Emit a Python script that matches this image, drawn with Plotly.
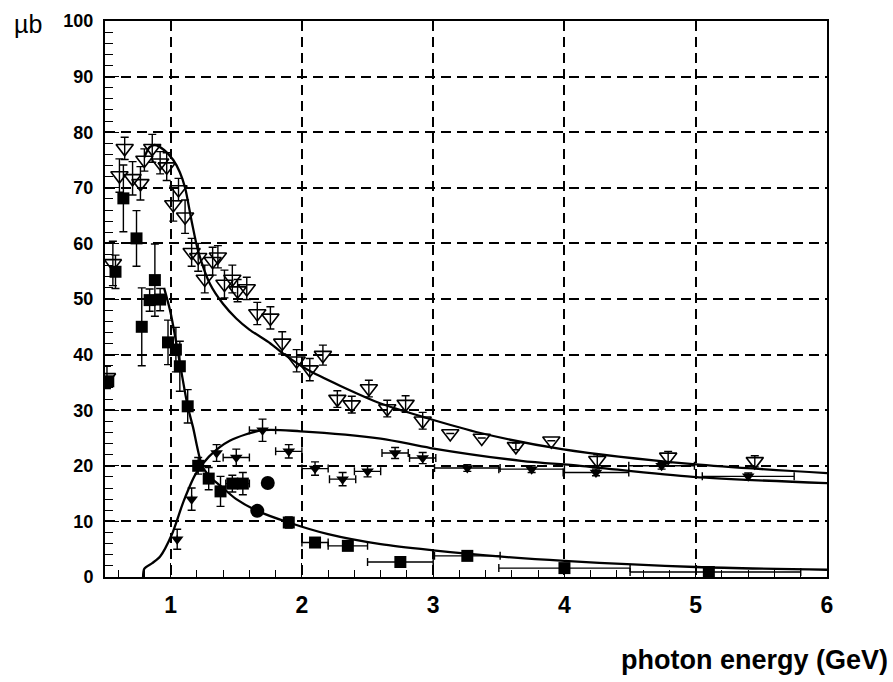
import plotly.graph_objects as go

# ---------------- data ----------------
# open down-triangles (total cross section)
tot_x = [0.515, 0.56, 0.61, 0.65, 0.71, 0.77, 0.80, 0.86, 0.92, 0.97, 1.02, 1.06, 1.11,
         1.16, 1.21, 1.26, 1.32, 1.36, 1.41, 1.47, 1.51, 1.58, 1.66, 1.76, 1.85, 1.96,
         2.06, 2.16, 2.27, 2.38, 2.51, 2.65, 2.79, 2.92, 3.13, 3.37, 3.63, 3.90, 4.25,
         4.79, 5.45]
tot_y = [35.9, 56.4, 72.2, 77.1, 71.7, 70.8, 75.0, 77.1, 74.5, 73.8, 67.0, 69.7, 64.8,
         58.4, 57.5, 53.6, 56.8, 57.6, 52.7, 53.6, 51.5, 51.9, 47.4, 46.6, 42.1, 38.9,
         37.3, 39.9, 32.0, 31.0, 33.9, 30.3, 31.1, 28.1, 25.8, 25.0, 23.5, 24.5, 21.0,
         21.6, 20.8]
tot_ey = [2.0, 4.0, 3.0, 2.0, 3.0, 3.0, 2.0, 2.5, 2.0, 2.5, 3.0, 2.0, 3.0,
          2.5, 2.5, 2.5, 2.5, 2.0, 2.5, 2.5, 2.0, 2.0, 2.0, 2.0, 2.0, 2.0,
          2.0, 1.8, 1.5, 1.5, 1.5, 1.5, 1.5, 1.5, None, None, 0.6, None, 1.0,
          1.0, 1.0]

# filled squares
sq_x = [0.525, 0.58, 0.64, 0.74, 0.78, 0.84, 0.88, 0.92, 0.98, 1.04, 1.07, 1.13,
        1.21, 1.29, 1.38, 1.47, 1.55, 1.90, 2.10, 2.35, 2.75, 3.26, 4.00, 5.10]
sq_y = [35.2, 54.9, 68.1, 60.9, 45.0, 49.8, 53.4, 49.9, 42.2, 40.9, 37.9, 30.7,
        20.0, 17.7, 15.4, 16.8, 16.8, 9.8, 6.2, 5.6, 2.7, 3.8, 1.6, 0.9]
sq_ey = [None, 3.0, 6.0, 5.0, 7.0, 2.0, 6.5, 2.0, 4.0, 4.0, 4.5, 3.0,
         1.5, 2.0, 2.7, 1.5, 2.0, 1.0, None, None, None, None, None, None]
sq_exm = [None, None, None, None, None, None, None, None, None, None, None, None,
          None, None, None, 0.05, 0.05, None, 0.1, 0.15, 0.25, 0.25, 0.5, 0.6]
sq_exp = [None, None, None, None, None, None, None, None, None, None, None, None,
          None, None, None, 0.05, 0.05, None, 0.1, 0.15, 0.25, 0.25, 0.5, 0.7]

# filled circles
ci_x = [1.66, 1.74]
ci_y = [11.9, 16.9]

# filled down-triangles
ft_x = [1.05, 1.16, 1.35, 1.50, 1.70, 1.90, 2.10, 2.31, 2.50, 2.71, 2.92, 3.26,
        3.75, 4.24, 4.74, 5.40]
ft_y = [6.8, 14.0, 22.3, 21.5, 26.4, 22.6, 19.5, 17.6, 19.0, 22.3, 21.4, 19.6,
        19.4, 18.8, 20.0, 18.1]
ft_ey = [1.8, 2.0, 1.5, 1.5, 2.0, 1.2, 1.2, 1.2, 1.0, 1.0, 1.0, 0.6,
         0.6, 0.6, 0.6, 0.6]
ft_ex = [None, None, None, 0.1, 0.1, 0.1, 0.1, 0.1, 0.1, 0.1, 0.1, 0.25,
         0.25, 0.25, 0.25, 0.35]

# model curves
cA_x = [0.80, 0.84, 0.88, 0.95, 1.02, 1.07, 1.11, 1.16, 1.21, 1.30, 1.40, 1.50,
        1.60, 1.76, 1.85, 2.04, 2.29, 2.60, 2.95, 3.36, 3.98, 4.98, 6.00]
cA_y = [75.5, 77.3, 77.7, 76.8, 75.0, 72.8, 70.0, 64.0, 58.6, 52.7, 49.1, 46.5,
        44.5, 42.0, 40.3, 37.3, 34.4, 31.2, 28.6, 25.9, 23.0, 20.3, 18.7]

cB_x = [0.79, 0.80, 0.86, 0.92, 1.01, 1.10, 1.19, 1.29, 1.45, 1.70, 1.99, 2.60,
        2.98, 3.67, 4.12, 4.98, 6.00]
cB_y = [0.0, 1.5, 2.5, 3.7, 7.7, 13.7, 18.5, 21.6, 24.5, 26.4, 26.2, 24.9,
        23.2, 20.9, 20.0, 18.0, 16.9]

cC_x = [0.95, 1.00, 1.07, 1.13, 1.17, 1.24, 1.30, 1.38, 1.50, 1.66, 1.90, 2.20,
        2.60, 3.00, 3.50, 4.00, 5.00, 6.00]
cC_y = [52.0, 47.5, 38.5, 30.7, 27.0, 20.0, 18.0, 16.4, 14.0, 11.9, 9.8, 7.7,
        5.9, 4.8, 3.7, 2.9, 1.8, 1.3]

x_ticks = [1, 2, 3, 4, 5, 6]
y_ticks = [0, 10, 20, 30, 40, 50, 60, 70, 80, 90, 100]

# ---------------- figure ----------------
BLACK = "black"
FONT = "Liberation Sans, Arial, sans-serif"
fig = go.Figure()

def ebar(arr, minus=None):
    d = dict(type="data", array=arr, visible=True, color=BLACK, thickness=1.4, width=4)
    if minus is not None:
        d["symmetric"] = False
        d["arrayminus"] = minus
    return d

fig.add_trace(go.Scatter(x=tot_x, y=tot_y, mode="markers",
                         error_y=ebar(tot_ey),
                         marker=dict(symbol="triangle-down-open", size=15, color=BLACK,
                                     line=dict(width=1.6, color=BLACK))))
fig.add_trace(go.Scatter(x=sq_x, y=sq_y, mode="markers",
                         error_y=ebar(sq_ey),
                         error_x=ebar(sq_exp, sq_exm),
                         marker=dict(symbol="square", size=12, color=BLACK)))
fig.add_trace(go.Scatter(x=ci_x, y=ci_y, mode="markers",
                         marker=dict(symbol="circle", size=14, color=BLACK)))
fig.add_trace(go.Scatter(x=ft_x, y=ft_y, mode="markers",
                         error_y=ebar(ft_ey),
                         error_x=ebar(ft_ex),
                         marker=dict(symbol="triangle-down", size=11, color=BLACK)))

for cx, cy in [(cA_x, cA_y), (cB_x, cB_y), (cC_x, cC_y)]:
    fig.add_trace(go.Scatter(x=cx, y=cy, mode="lines",
                             line=dict(color=BLACK, width=2.3, shape="spline", smoothing=0.8)))

axis_common = dict(showline=True, mirror=True, linecolor=BLACK, linewidth=2,
                   showgrid=True, gridcolor=BLACK, gridwidth=1.5, griddash="10px,6px",
                   zeroline=False, ticks="inside", tickcolor=BLACK, tickwidth=1.3,
                   tickfont=dict(family=FONT, color=BLACK, weight="bold"))

fig.update_xaxes(**axis_common, range=[0.5, 6], tickmode="array", tickvals=x_ticks,
                 ticktext=[str(v) for v in x_ticks], ticklen=14,
                 minor=dict(dtick=0.2, tick0=0, ticks="inside", ticklen=7,
                            tickcolor=BLACK, tickwidth=1.2, showgrid=False))
fig.update_xaxes(tickfont_size=23, ticklabelstandoff=6)
fig.update_yaxes(**axis_common, range=[0, 100], tickmode="array", tickvals=y_ticks,
                 ticktext=[str(v) for v in y_ticks], ticklen=14,
                 minor=dict(dtick=2, tick0=0, ticks="inside", ticklen=8,
                            tickcolor=BLACK, tickwidth=1.2, showgrid=False))
fig.update_yaxes(tickfont_size=18, ticklabelstandoff=6)

fig.add_annotation(text="photon energy (GeV)", xref="paper", yref="paper",
                   x=1.087, y=-0.149, xanchor="right", yanchor="middle", showarrow=False,
                   font=dict(family=FONT, size=27, color=BLACK, weight="bold"))
fig.add_annotation(text="\u00b5b", xref="paper", yref="paper",
                   x=-0.129, y=0.995, xanchor="left", yanchor="middle", showarrow=False,
                   font=dict(family=FONT, size=25, color=BLACK))

fig.update_layout(width=893, height=682, showlegend=False,
                  plot_bgcolor="white", paper_bgcolor="white",
                  margin=dict(l=105, r=66, t=21, b=105))

fig.write_html("out.html")
